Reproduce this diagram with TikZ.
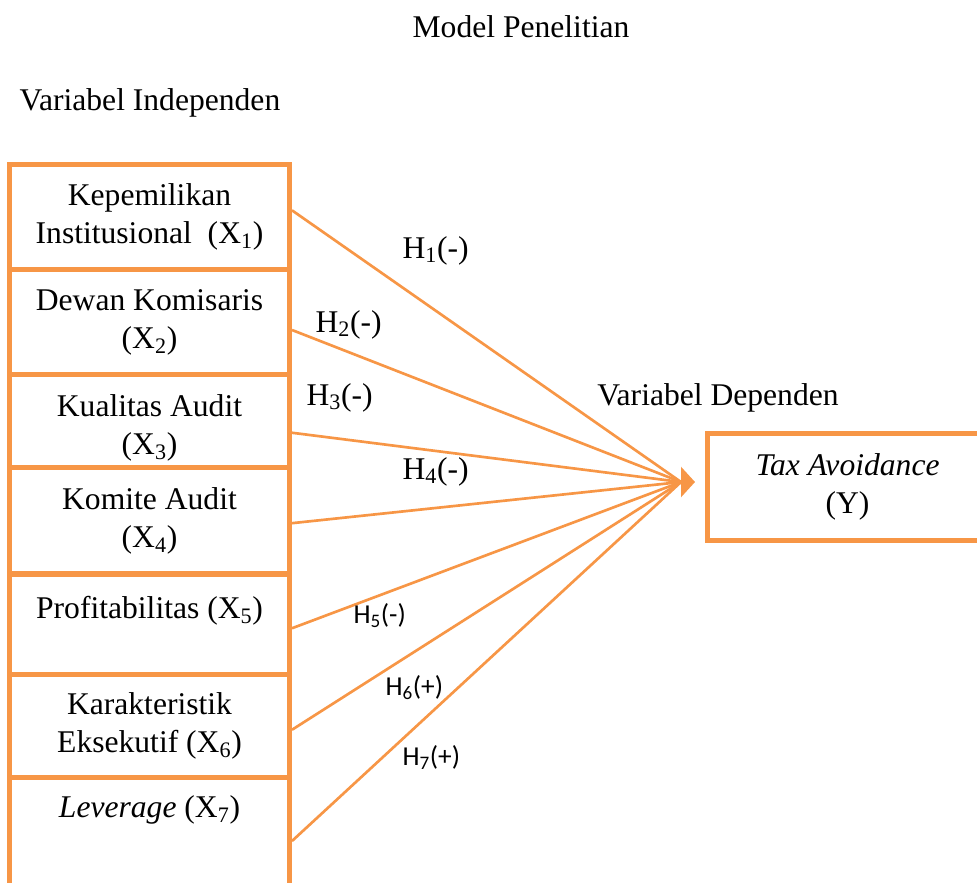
\documentclass[tikz,border=0pt]{standalone}
\usepackage{fontspec}
\setmainfont{Liberation Serif}
\newfontfamily\calfont{Carlito}
\usetikzlibrary{arrows.meta}
\definecolor{accent}{RGB}{247,150,70}
\newcommand\mainsize{\fontsize{23.7}{28.5}\selectfont}
\tikzset{every picture/.style={line width=0.75pt}}

\begin{document}
\begin{tikzpicture}[x=0.75pt,y=0.75pt,yscale=-1,xscale=1,
  varbox/.style={draw=accent, line width=3.75pt, minimum width=210pt, align=center, inner sep=0pt, font=\mainsize},
  link/.style={draw=accent, line width=2pt},
  txt/.style={font=\mainsize, inner sep=0pt},
  hyp/.style={font=\calfont\fontsize{20.5}{24}\selectfont, inner sep=0pt}]
\useasboundingbox (0,0) rectangle (977,882);

%Text
\node[txt, anchor=base] (title) at (521,37) {Model Penelitian};
\node[txt, anchor=base] (indep) at (150,110) {Variabel Independen};
\node[txt, anchor=base] (dep) at (718,405) {Variabel Dependen};

%Shape: Rectangle
\node[varbox, minimum height=78.75pt] (x1) at (149.5,217) {Kepemilikan\\Institusional\ \ (X\textsubscript{1})};
%Shape: Rectangle
\node[varbox, minimum height=78.75pt] (x2) at (149.5,322) {Dewan Komisaris\\(X\textsubscript{2})};
%Shape: Rectangle
\node[varbox, minimum height=69.4pt, text height=55pt] (x3) at (149.5,420.75) {Kualitas Audit\\(X\textsubscript{3})};
%Shape: Rectangle
\node[varbox, minimum height=80.25pt] (x4) at (149.5,520.5) {Komite Audit\\(X\textsubscript{4})};
%Shape: Rectangle
\node[varbox, minimum height=75.4pt, text depth=26pt] (x5) at (149.5,624.25) {Profitabilitas (X\textsubscript{5})};
%Shape: Rectangle
\node[varbox, minimum height=76.9pt] (x6) at (149.5,725.75) {Karakteristik\\Eksekutif (X\textsubscript{6})};
%Shape: Rectangle
\node[varbox, minimum height=96pt, text depth=51pt] (x7) at (149.5,841) {\textit{Leverage} (X\textsubscript{7})};
%Shape: Rectangle
\node[varbox, minimum height=80pt] (y) at (847.5,486.75) {\textit{Tax Avoidance}\\(Y)};

\coordinate (hub) at (681,482);
\coordinate (tip) at (695,482);

%Straight Lines
\draw[link] ([yshift=-5pt]x1.east) -- (hub);
%Straight Lines
\draw[link] ([yshift=6pt]x2.east) -- (hub);
%Straight Lines
\draw[link] ([yshift=9pt]x3.east) -- (hub);
%Straight Lines
\draw[link] ([yshift=2pt]x4.east) -- (hub);
%Straight Lines
\draw[link] ([yshift=3pt]x5.east) -- (hub);
%Straight Lines
\draw[link] ([yshift=3pt]x6.east) -- (hub);
%Straight Lines
\draw[link] (x7.east) -- (hub);
%Straight Lines
\draw[link, -{Triangle[length=10.5pt,width=22.5pt]}] (hub) -- (tip);

%Text
\node[txt, anchor=base west] (h1) at (402,258) {H\textsubscript{1}(-)};
\node[txt, anchor=base west] (h2) at (315,332) {H\textsubscript{2}(-)};
\node[txt, anchor=base west] (h3) at (306,405) {H\textsubscript{3}(-)};
\node[txt, anchor=base west] (h4) at (402,479) {H\textsubscript{4}(-)};
\node[hyp, anchor=base west] (h5) at (353,623) {H\textsubscript{5}(-)};
\node[hyp, anchor=base west] (h6) at (385,695) {H\textsubscript{6}(+)};
\node[hyp, anchor=base west] (h7) at (402,765) {H\textsubscript{7}(+)};

\end{tikzpicture}
\end{document}
